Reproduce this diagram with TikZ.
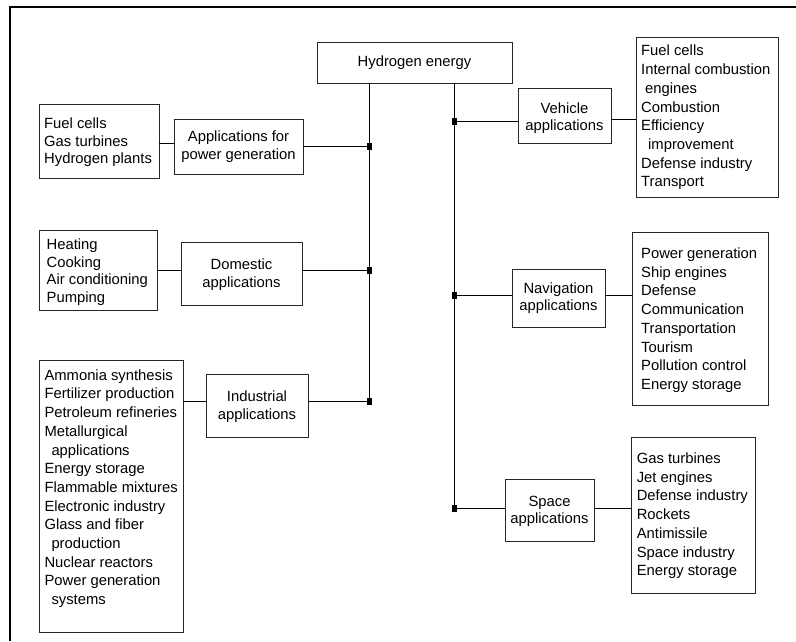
\documentclass[tikz,border=0pt]{standalone}
\usepackage{fontspec}
\setmainfont{Liberation Sans}
\usetikzlibrary{calc}
\newcommand\lfont{\fontsize{14.8pt}{18.7pt}\selectfont}
\newcommand\sfont{\fontsize{14.8pt}{17.5pt}\selectfont}
\newcommand\tstrut[1]{\rule{0pt}{#1}}
\begin{document}
\begin{tikzpicture}[x=1pt,y=-1pt,
  box/.style={draw=black!85, line width=0.9pt, inner sep=0pt, align=center, font=\sfont},
  ltext/.style={anchor=north west, inner sep=0pt, align=left, font=\lfont},
  conn/.style={line width=0.9pt},
  jdot/.style={fill=black, inner sep=0pt, minimum width=5pt, minimum height=7pt}]
\useasboundingbox (0,0) rectangle (796,641);
% outer frame
\draw[line width=1.3pt] (796,7) -- (10,7) -- (10,641);

% root
\node[box, minimum width=195pt, minimum height=41pt] (hyd) at (414.5,62.5) {Hydrogen energy};

% left application boxes
\node[box, minimum width=129pt, minimum height=55pt] (pwr) at (238.5,146.5) {Applications for\\power generation};
\node[box, minimum width=121pt, minimum height=63pt] (dom) at (241.5,273.5) {\tstrut{13pt}Domestic\\applications};
\node[box, minimum width=102pt, minimum height=63pt] (ind) at (257,405.5) {\tstrut{12.6pt}Industrial\\applications};

% right application boxes
\node[box, minimum width=93pt, minimum height=55pt] (veh) at (564.5,115.5) {\tstrut{16pt}Vehicle\\applications};
\node[box, minimum width=93pt, minimum height=58pt] (nav) at (558.5,298) {Navigation\\applications};
\node[box, minimum width=89pt, minimum height=62pt] (spa) at (549.5,510) {\tstrut{12.6pt}Space\\applications};

% list boxes
\node[box, minimum width=120pt, minimum height=74pt] (pwrl) at (99,141) {};
\node[box, minimum width=118pt, minimum height=80pt] (doml) at (98,270) {};
\node[box, minimum width=144pt, minimum height=272pt] (indl) at (111,496) {};
\node[box, minimum width=142pt, minimum height=160pt] (vehl) at (707,117) {};
\node[box, minimum width=136pt, minimum height=173pt] (navl) at (700,318.5) {};
\node[box, minimum width=124pt, minimum height=156pt] (spal) at (693,515) {};

% list texts
\node[ltext, font=\sfont] (pwrt) at (44,118) {Fuel cells\\Gas turbines\\Hydrogen plants};
\node[ltext, font=\sfont] (domt) at (46.5,238.6) {Heating\\Cooking\\Air conditioning\\Pumping};
\node[ltext] (indt) at (44.3,369.3) {Ammonia synthesis\\Fertilizer production\\Petroleum refineries\\Metallurgical\\\hspace*{7pt}applications\\Energy storage\\Flammable mixtures\\Electronic industry\\Glass and fiber\\\hspace*{7pt}production\\Nuclear reactors\\Power generation\\\hspace*{7pt}systems};
\node[ltext] (veht) at (641,45) {Fuel cells\\Internal combustion\\\hspace*{4pt}engines\\Combustion\\Efficiency\\\hspace*{7pt}improvement\\Defense industry\\Transport};
\node[ltext] (navt) at (641,247.6) {Power generation\\Ship engines\\Defense\\Communication\\Transportation\\Tourism\\Pollution control\\Energy storage};
\node[ltext] (spat) at (636.6,452.6) {Gas turbines\\Jet engines\\Defense industry\\Rockets\\Antimissile\\Space industry\\Energy storage};

% junctions
\coordinate (jl1) at (369,146);
\coordinate (jl2) at (369,270);
\coordinate (jl3) at (369,401.5);
\coordinate (jr1) at (454,121);
\coordinate (jr2) at (454,295);
\coordinate (jr3) at (454,508);

% trunks
\draw[conn] (hyd.south -| jl1) -- (jl3);
\draw[conn] (hyd.south -| jr1) -- (jr3);

% branches
\draw[conn] (jl1 -| pwr.east) -- (jl1);
\draw[conn] (jl2 -| dom.east) -- (jl2);
\draw[conn] (jl3 -| ind.east) -- (jl3);
\draw[conn] (jr1) -- (jr1 -| veh.west);
\draw[conn] (jr2) -- (jr2 -| nav.west);
\draw[conn] (jr3) -- (jr3 -| spa.west);

% list connectors
\draw[conn] ([yshift=-2pt]pwrl.east) -- ([yshift=-2pt]pwrl.east -| pwr.west);
\draw[conn] (doml.east) -- (doml.east -| dom.west);
\draw[conn] (jl3 -| indl.east) -- (jl3 -| ind.west);
\draw[conn] ([yshift=-3.5pt]veh.east) -- ([yshift=-3.5pt]veh.east -| vehl.west);
\draw[conn] (jr2 -| nav.east) -- (jr2 -| navl.west);
\draw[conn] (jr3 -| spa.east) -- (jr3 -| spal.west);

% junction markers
\node[jdot] (dl1) at (jl1) {};
\node[jdot] (dl2) at (jl2) {};
\node[jdot] (dl3) at (jl3) {};
\node[jdot] (dr1) at (jr1) {};
\node[jdot] (dr2) at (jr2) {};
\node[jdot] (dr3) at (jr3) {};
\end{tikzpicture}
\end{document}
